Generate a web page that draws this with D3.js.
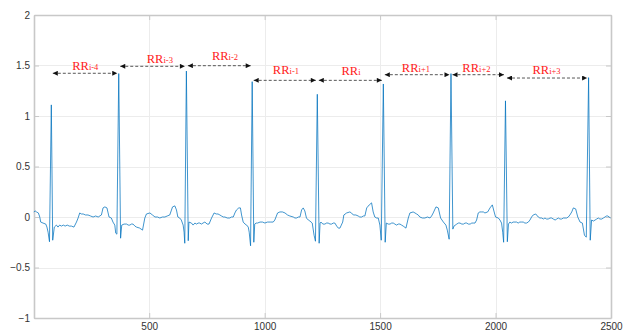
<!DOCTYPE html>
<html>
<head>
<meta charset="utf-8">
<script src="https://cdn.jsdelivr.net/npm/d3@7"></script>
<style>
  body { margin: 0; background: #fff; }
  .axis text { font-family: "Liberation Sans", Arial, sans-serif; font-size: 10px; fill: #333; }
  .axis path, .axis line { stroke: #c8c8c8; }
  .grid line { stroke: #ececec; }
</style>
</head>
<body>
<svg></svg>
<script>
// ecg samples: [sample, amplitude]
var ecg = [
  [0,0.05],[6,0.06],[12,0.05],[20,0.04],[26,0.0],[30,-0.05],[40,-0.06],[52,-0.07],[57,-0.1],[62,-0.15],[68,-0.245],[76,1.11],[82,-0.23],[89,-0.1],[98,-0.08],
  [105,-0.1],[112,-0.08],[120,-0.09],[128,-0.08],[136,-0.09],[145,-0.08],[154,-0.09],[163,-0.09],[174,-0.1],[185,-0.05],[192,-0.01],[199,0.04],[206,0.03],[214,0.03],
  [224,0.02],[235,0.02],[246,0.01],[257,0.0],[268,0.01],[279,0.0],[293,0.02],[300,0.09],[308,0.1],[317,0.09],[326,0.0],[336,-0.01],[343,-0.05],[351,-0.08],[355,-0.16],
  [360,-0.17],[368,1.42],[376,-0.21],[381,-0.08],[391,-0.07],[402,-0.07],[409,-0.08],[416,-0.08],[423,-0.07],[430,-0.07],[438,-0.09],[445,-0.1],[459,-0.11],[471,-0.13],
  [481,-0.01],[488,0.03],[503,0.04],[514,0.02],[525,0.0],[536,0.0],[546,-0.01],[557,0.0],[568,0.0],[578,0.01],[589,0.02],[595,0.06],[601,0.1],[611,0.11],[618,0.07],
  [624,0.0],[632,-0.01],[639,-0.03],[647,-0.08],[651,-0.15],[654,-0.26],[661,1.445],[669,-0.235],[672,-0.05],[683,-0.06],[690,-0.08],[698,-0.06],[705,-0.07],[712,-0.06],
  [719,-0.06],[726,-0.07],[733,-0.06],[741,-0.05],[751,-0.07],[759,-0.07],[770,-0.01],[781,0.04],[790,0.03],[798,0.03],[806,0.02],[813,0.01],[821,0.0],[828,0.0],
  [838,-0.01],[849,-0.01],[856,0.0],[864,0.0],[871,0.04],[878,0.07],[888,0.09],[895,0.09],[900,0.02],[907,-0.05],[915,-0.07],[922,-0.08],[929,-0.1],[933,-0.15],
  [939,-0.285],[946,1.34],[953,-0.25],[957,-0.07],[963,-0.06],[969,-0.06],[980,-0.05],[991,-0.05],[1001,-0.06],[1012,-0.05],[1024,-0.05],[1037,-0.05],[1044,-0.03],
  [1056,0.04],[1066,0.05],[1077,0.05],[1088,0.04],[1099,0.02],[1109,0.01],[1124,0.0],[1131,-0.01],[1138,-0.01],[1146,0.0],[1153,0.0],[1160,0.07],[1167,0.09],[1174,0.06],
  [1181,-0.01],[1189,-0.03],[1196,-0.04],[1206,-0.06],[1214,-0.18],[1220,-0.24],[1228,1.215],[1236,-0.26],[1240,-0.06],[1244,-0.05],[1252,-0.07],[1261,-0.07],[1268,-0.06],
  [1275,-0.06],[1283,-0.07],[1290,-0.07],[1297,-0.06],[1304,-0.06],[1312,-0.09],[1319,-0.11],[1326,-0.11],[1332,-0.08],[1338,-0.05],[1343,0.02],[1355,0.04],[1369,0.05],
  [1376,0.04],[1384,0.02],[1395,0.02],[1405,0.01],[1412,0.0],[1420,0.0],[1427,0.01],[1434,0.01],[1442,0.09],[1453,0.12],[1463,0.14],[1470,0.05],[1477,0.0],[1485,-0.01],
  [1492,-0.01],[1499,-0.08],[1505,-0.23],[1514,1.317],[1522,-0.25],[1527,-0.06],[1535,-0.07],[1543,-0.07],[1550,-0.06],[1557,-0.06],[1564,-0.07],[1571,-0.08],[1579,-0.07],
  [1586,-0.07],[1593,-0.08],[1600,-0.09],[1612,-0.11],[1622,-0.01],[1629,0.04],[1643,0.05],[1651,0.04],[1658,0.03],[1665,0.02],[1672,0.0],[1683,-0.01],[1694,-0.01],
  [1705,0.0],[1716,-0.01],[1723,0.01],[1730,0.04],[1742,0.1],[1752,0.09],[1762,-0.01],[1774,-0.05],[1785,-0.08],[1791,-0.13],[1799,-0.22],[1807,1.42],[1815,-0.12],
  [1820,-0.09],[1832,-0.07],[1839,-0.06],[1846,-0.06],[1854,-0.07],[1861,-0.07],[1868,-0.06],[1875,-0.06],[1882,-0.07],[1890,-0.07],[1897,-0.06],[1905,-0.06],[1911,-0.06],
  [1918,-0.03],[1925,0.04],[1932,0.05],[1940,0.05],[1947,0.05],[1954,0.04],[1966,0.05],[1976,0.09],[1986,0.12],[1994,0.05],[2000,0.0],[2012,-0.01],[2019,-0.03],
  [2026,-0.06],[2031,-0.15],[2035,-0.25],[2043,1.15],[2051,-0.245],[2056,-0.07],[2062,-0.05],[2069,-0.06],[2076,-0.05],[2084,-0.05],[2091,-0.05],[2098,-0.06],[2105,-0.05],
  [2113,-0.05],[2120,-0.05],[2127,-0.06],[2134,-0.06],[2142,-0.05],[2149,-0.03],[2156,0.0],[2163,0.02],[2174,0.03],[2185,0.0],[2192,-0.01],[2200,-0.01],[2207,-0.02],
  [2214,-0.01],[2221,-0.02],[2228,-0.02],[2236,-0.01],[2243,-0.01],[2250,-0.02],[2258,-0.03],[2265,-0.02],[2272,-0.01],[2279,-0.02],[2286,-0.02],[2294,-0.01],[2301,-0.01],
  [2308,-0.01],[2315,0.0],[2322,0.02],[2330,0.05],[2337,0.09],[2347,0.08],[2356,0.0],[2366,-0.05],[2376,-0.06],[2385,-0.18],[2393,-0.2],[2403,1.38],[2410,-0.23],
  [2416,-0.03],[2424,-0.04],[2431,-0.03],[2438,-0.02],[2445,-0.01],[2452,-0.02],[2460,-0.02],[2467,-0.01],[2474,0.0],[2481,0.01],[2486,0.01],[2492,0.0],[2498,-0.01]
];

// R peak positions (samples), the RR arrows go between consecutive ones
var rPeaks = [76, 368, 661, 946, 1228, 1514, 1807, 2043, 2403];
var rrSubs = ["i-4", "i-3", "i-2", "i-1", "i", "i+1", "i+2", "i+3"];
var rrLevel = [1.423, 1.492, 1.498, 1.353, 1.353, 1.409, 1.409, 1.376];
var rrLabelX = [223, 546, 828, 1092, 1374, 1655, 1917, 2221];
var rrLabelY = [1.455, 1.52, 1.554, 1.416, 1.403, 1.436, 1.44, 1.416];

var xTicks = [500, 1000, 1500, 2000, 2500];
var yTicks = [-1, -0.5, 0, 0.5, 1, 1.5, 2];

var W = 631, H = 333;
var margin = {left: 34, right: 20, top: 15, bottom: 15};
var width = W - margin.left - margin.right;
var height = H - margin.top - margin.bottom;

var svg = d3.select("svg").attr("width", W).attr("height", H);

var x = d3.scaleLinear().domain([1, 2500]).range([0, width]);
var y = d3.scaleLinear().domain([-1, 2]).range([height, 0]);

var g = svg.append("g").attr("transform", "translate(" + margin.left + "," + margin.top + ")");

// grid
var grid = g.append("g").attr("class", "grid");
grid.selectAll(".gx").data(xTicks).enter().append("line")
  .attr("x1", function(d){ return Math.round(x(d)) + 0.5; })
  .attr("x2", function(d){ return Math.round(x(d)) + 0.5; })
  .attr("y1", 0).attr("y2", height);
grid.selectAll(".gy").data(yTicks).enter().append("line")
  .attr("y1", function(d){ return Math.round(y(d)) + 0.5; })
  .attr("y2", function(d){ return Math.round(y(d)) + 0.5; })
  .attr("x1", 0).attr("x2", width);

// box + ticks (matlab style, ticks inside)
g.append("g").attr("class", "axis")
  .attr("transform", "translate(0," + height + ")")
  .call(d3.axisBottom(x).tickValues(xTicks).tickSize(-5).tickPadding(5).tickSizeOuter(0).tickFormat(d3.format("d")));
g.append("g").attr("class", "axis")
  .call(d3.axisTop(x).tickValues(xTicks).tickSize(-5).tickFormat("").tickSizeOuter(0));
g.append("g").attr("class", "axis")
  .call(d3.axisLeft(y).tickValues(yTicks).tickSize(-5).tickPadding(4).tickSizeOuter(0).tickFormat(d3.format("")));
g.append("g").attr("class", "axis")
  .attr("transform", "translate(" + width + ",0)")
  .call(d3.axisRight(y).tickValues(yTicks).tickSize(-5).tickFormat("").tickSizeOuter(0));

g.selectAll(".axis .domain").attr("stroke", "#d0d0d0").attr("stroke-width", 1.6);

// signal
var line = d3.line()
  .x(function(d){ return x(d[0]); })
  .y(function(d){ return y(d[1]); });

g.append("path")
  .datum(ecg)
  .attr("fill", "none")
  .attr("stroke", "#0072bd")
  .attr("stroke-width", 0.75)
  .attr("stroke-linejoin", "miter")
  .attr("d", line);

// arrow heads
var defs = svg.append("defs");
["start", "end"].forEach(function(k){
  defs.append("marker")
    .attr("id", "arr-" + k)
    .attr("markerUnits", "userSpaceOnUse")
    .attr("viewBox", "0 0 10 10")
    .attr("refX", 10).attr("refY", 5)
    .attr("markerWidth", 6).attr("markerHeight", 5)
    .attr("orient", k == "start" ? "auto-start-reverse" : "auto")
    .append("path")
      .attr("d", "M0,0 L10,5 L0,10 Z")
      .attr("fill", "#111");
});

var rr = rrSubs.map(function(s, i){
  return {sub: s, a: rPeaks[i], b: rPeaks[i + 1], level: rrLevel[i], lx: rrLabelX[i], ly: rrLabelY[i]};
});

g.append("g").selectAll("line")
  .data(rr)
  .enter().append("line")
    .attr("x1", function(d){ return x(d.a) + 1.5; })
    .attr("x2", function(d){ return x(d.b) - 1.5; })
    .attr("y1", function(d){ return y(d.level); })
    .attr("y2", function(d){ return y(d.level); })
    .attr("stroke", "#444")
    .attr("stroke-width", 0.9)
    .attr("stroke-dasharray", "3,2")
    .attr("marker-start", "url(#arr-start)")
    .attr("marker-end", "url(#arr-end)");

var labels = g.append("g").selectAll("text")
  .data(rr)
  .enter().append("text")
    .attr("x", function(d){ return x(d.lx); })
    .attr("y", function(d){ return y(d.ly); })
    .attr("text-anchor", "middle")
    .style("font-family", "'Liberation Serif', 'Times New Roman', serif")
    .style("fill", "#ff1a1a");

labels.append("tspan").style("font-size", "12.5px").text("RR");
labels.append("tspan").style("font-size", "8.5px").text(function(d){ return d.sub; });
</script>
</body>
</html>
